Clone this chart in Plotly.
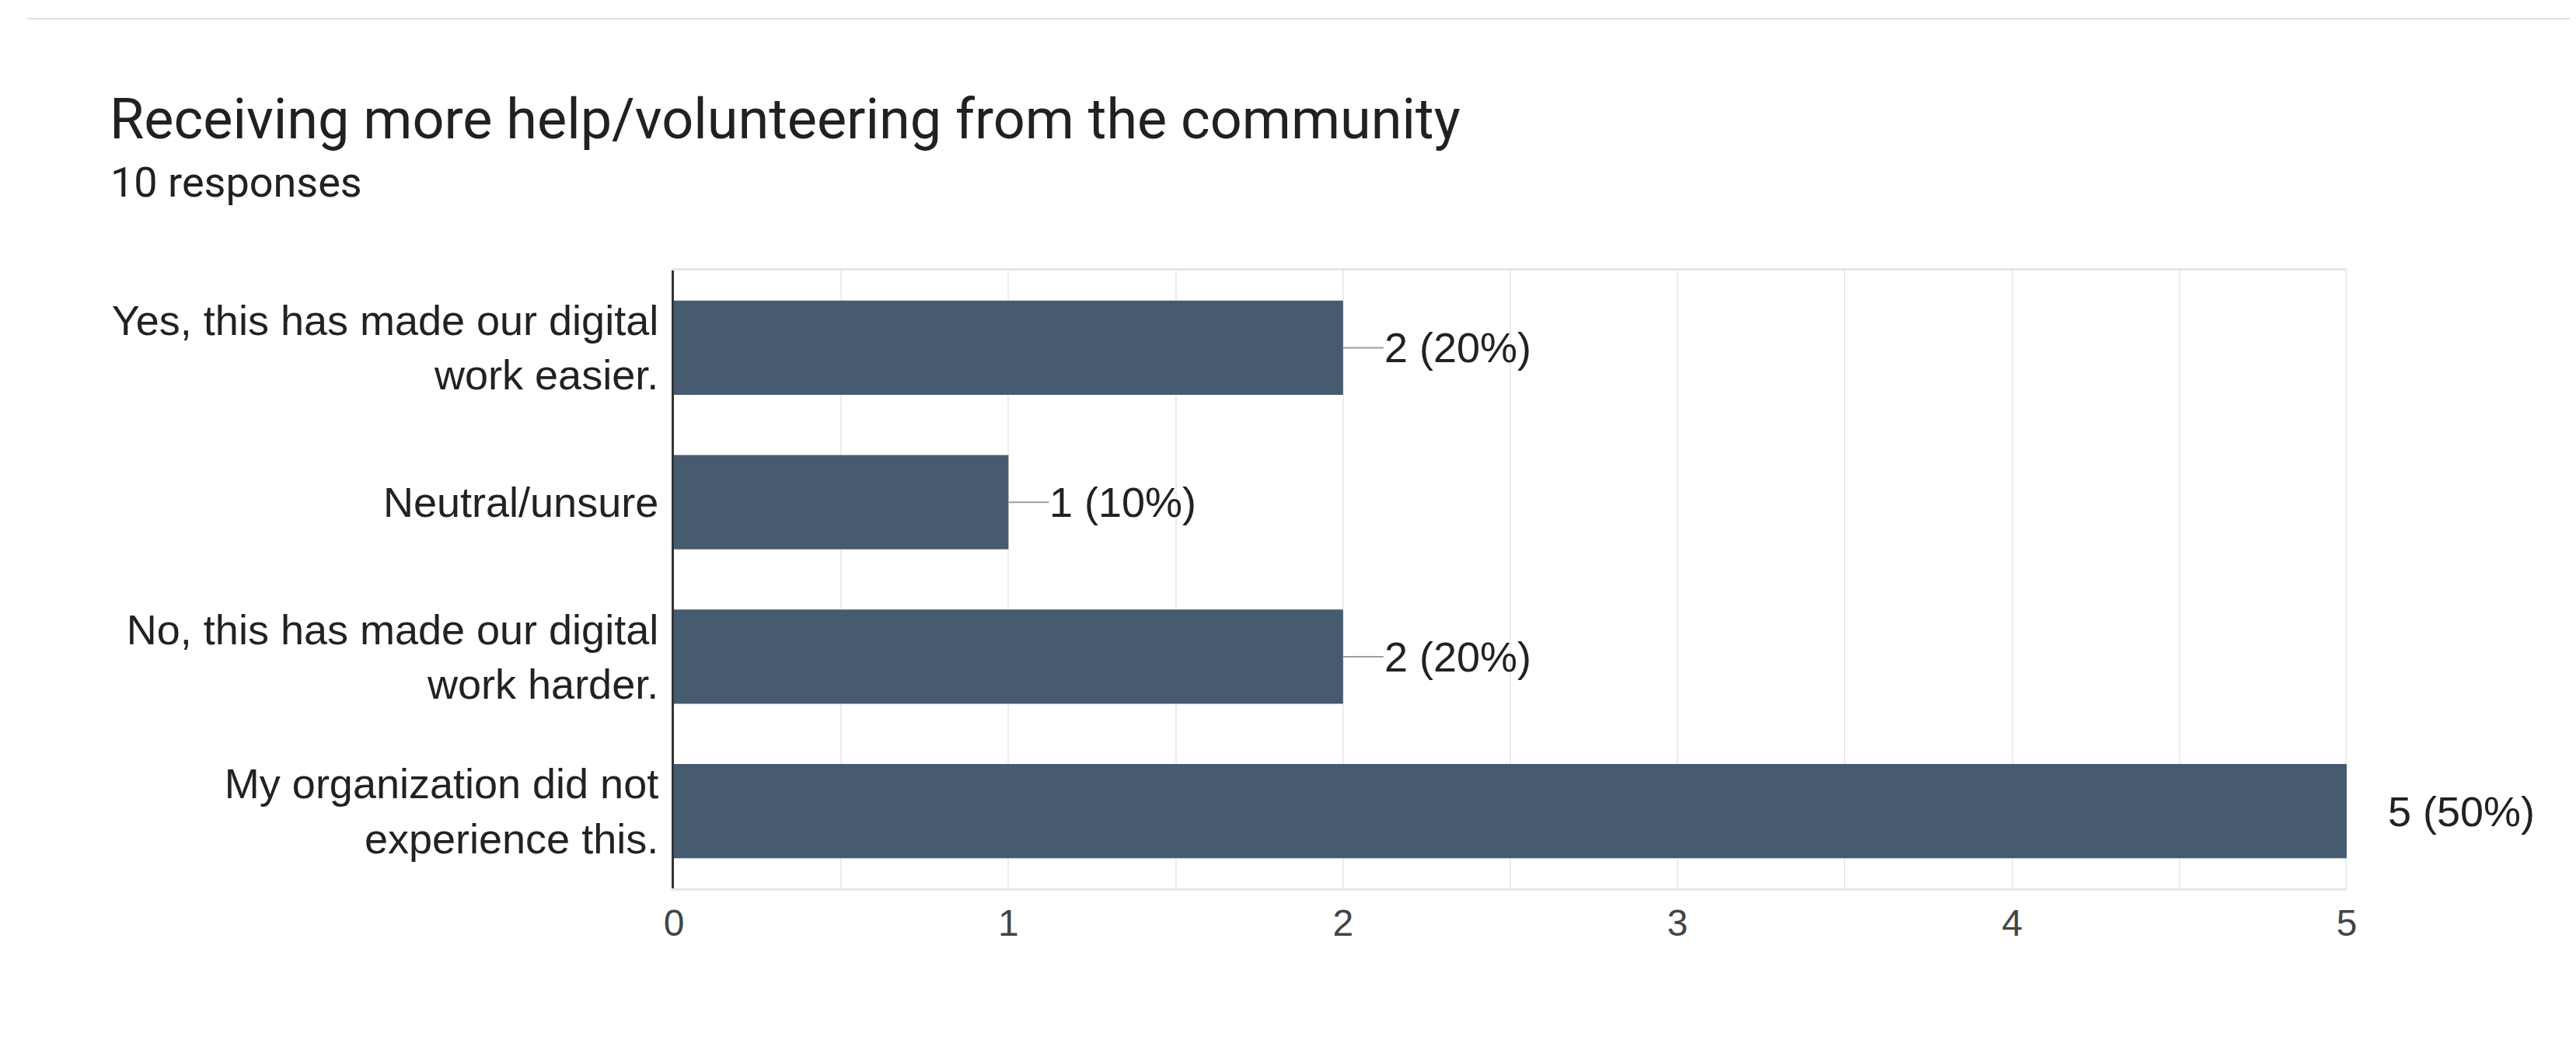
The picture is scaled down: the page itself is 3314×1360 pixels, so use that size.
import plotly.graph_objects as go

# ---- data ----
categories = [
    "Yes, this has made our digital<br>work easier.",
    "Neutral/unsure",
    "No, this has made our digital<br>work harder.",
    "My organization did not<br>experience this.",
]
counts = [2, 1, 2, 5]
x_tick_values = [0, 1, 2, 3, 4, 5]
title_text = "Receiving more help/volunteering from the community"
subtitle_text = "10 responses"

total = sum(counts)
W, H = 3314, 1360
L, R, T, B = 859, 3314 - 3011, 340, 1360 - 1135
pw, ph = W - L - R, H - T - B


def px_x(px):
    return (px - L) / pw


def px_y(py):
    return (H - B - py) / ph


fig = go.Figure(
    go.Bar(
        x=counts,
        y=categories,
        orientation="h",
        width=0.61,
        marker=dict(color="#465b6f", line=dict(width=0)),
        hoverinfo="skip",
    )
)

annotations = []
xmax = max(x_tick_values)
for c, v in zip(categories, counts):
    annotations.append(
        dict(
            x=v, y=c, xref="x", yref="y",
            text=f"{v} ({v / total * 100:.0f}%)",
            showarrow=True, arrowhead=0, arrowwidth=2,
            arrowcolor="#9e9e9e" if v < xmax else "rgba(0,0,0,0)",
            ax=52, ay=0, xanchor="left", yanchor="middle",
            standoff=0, startstandoff=0, borderpad=0,
            font=dict(family="Liberation Sans, Arial, sans-serif", size=54, color="#222222"),
        )
    )

annotations.append(
    dict(
        x=px_x(131), y=px_y(145), xref="paper", yref="paper",
        text=title_text, showarrow=False, xanchor="left", yanchor="middle",
        font=dict(family="Roboto, sans-serif", size=72, color="#202124"),
    )
)
annotations.append(
    dict(
        x=px_x(132), y=px_y(226), xref="paper", yref="paper",
        text=subtitle_text, showarrow=False, xanchor="left", yanchor="middle",
        font=dict(family="Roboto, sans-serif", size=54, color="#202124"),
    )
)

fig.update_layout(
    width=W, height=H,
    margin=dict(l=L, r=R, t=T, b=B, pad=0),
    paper_bgcolor="white", plot_bgcolor="white",
    showlegend=False,
    annotations=annotations,
    shapes=[
        dict(type="line", xref="paper", yref="paper",
             x0=px_x(27), x1=px_x(W), y0=px_y(16), y1=px_y(16),
             line=dict(color="#e0e0e0", width=2)),
        dict(type="line", xref="x", yref="paper",
             x0=xmax, x1=xmax, y0=0, y1=1,
             line=dict(color="#e8e8e8", width=3), layer="below"),
    ],
    font=dict(family="Liberation Sans, Arial, sans-serif", color="#222222"),
)

fig.update_xaxes(
    range=[0, xmax],
    tickvals=x_tick_values,
    ticktext=[str(v) for v in x_tick_values],
    showgrid=True, gridcolor="#ececec", gridwidth=2,
    minor=dict(dtick=0.5, showgrid=True, gridcolor="#ececec", gridwidth=2),
    showline=True, linecolor="#e6e6e6", linewidth=3, mirror=True,
    zeroline=False, ticks="",
    tickfont=dict(family="Liberation Sans, Arial, sans-serif", size=48, color="#444444"),
    ticklabelstandoff=0,
    fixedrange=True,
)
fig.update_yaxes(
    autorange="reversed",
    showline=True, linecolor="#333333", linewidth=3,
    showgrid=False, zeroline=False, ticks="",
    tickfont=dict(family="Liberation Sans, Arial, sans-serif", size=54, color="#222222"),
    ticklabelstandoff=6,
    fixedrange=True,
)

fig.write_html("out.html")
